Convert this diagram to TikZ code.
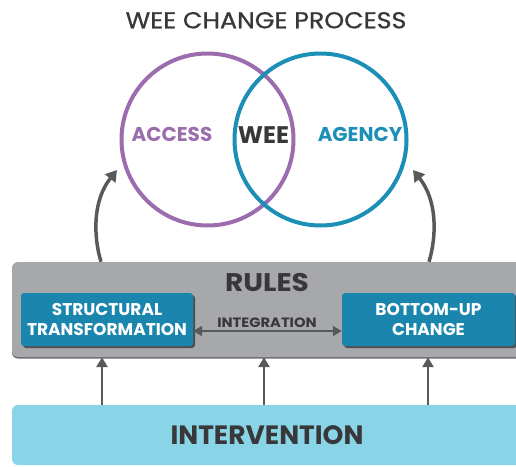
\documentclass[tikz,border=0pt]{standalone}
\usepackage{fontspec}
\setmainfont{Poppins}
\newfontfamily\titlefont{Poppins}[FakeBold=0.8]
\usetikzlibrary{arrows.meta,shadows}
\definecolor{wpurple}{HTML}{9C6DAE}
\definecolor{wblue}{HTML}{1B8FB6}
\definecolor{boxblue}{HTML}{1A86AE}
\definecolor{rulesgray}{HTML}{A7A8AB}
\definecolor{intblue}{HTML}{8AD4E8}
\definecolor{arrowgray}{HTML}{58595B}
\definecolor{wdark}{HTML}{38383A}
\definecolor{shadowgray}{HTML}{505052}
\newcommand\hsc[2]{\scalebox{#1}[1]{#2}}
\begin{document}
\begin{tikzpicture}[x=1pt,y=-1pt,
  circ/.style={circle, minimum size=172pt, line width=4pt, inner sep=0pt},
  lbl/.style={anchor=base, inner sep=0pt, font=\bfseries\fontsize{20}{24}\selectfont},
  bluebox/.style={fill=boxblue, rounded corners=3pt, minimum width=172pt, minimum height=53pt,
     text=white, align=center, inner sep=0pt,
     font=\bfseries\fontsize{17}{20}\selectfont,
     drop shadow={shadow xshift=2pt, shadow yshift=-2pt, fill=shadowgray, opacity=1}},
  rulesbox/.style={fill=rulesgray, rounded corners=6pt, minimum width=510pt, minimum height=95pt, inner sep=0pt,
     drop shadow={shadow xshift=0pt, shadow yshift=-1.5pt, fill=gray!85!black, opacity=1}},
  intbox/.style={fill=intblue, rounded corners=6pt, minimum width=510pt, minimum height=60pt, inner sep=0pt,
     text=wdark, font=\bfseries\fontsize{26.5}{30}\selectfont},
  uparrow/.style={draw=arrowgray, line width=2.6pt, -{Triangle[width=11pt,length=10pt]}},
  curvy/.style={draw=arrowgray, line width=3.5pt, -{Triangle[width=13pt,length=11pt]}},
  intarrow/.style={draw=arrowgray, line width=2pt, {Triangle[width=10pt,length=9pt]}-{Triangle[width=10pt,length=9pt]}}
]
\useasboundingbox (0,0) rectangle (516,466);
\clip (0,0) rectangle (516,466);
% title
\node[anchor=base, inner sep=0pt, text=wdark, font=\titlefont\fontsize{23}{26}\selectfont] (title) at (266,28.3) {\hsc{1.1}{WEE CHANGE PROCESS}};
% circles
\node[circ, draw=wpurple] (access) at (207.5,139.5) {};
\node[circ, draw=wblue] (agency) at (320.5,139.5) {};
\node[lbl, text=wpurple] (accesst) at (172,141.7) {ACCESS};
\node[lbl, text=wdark, font=\bfseries\fontsize{24}{26}\selectfont] (weet) at (263.5,143) {WEE};
\node[lbl, text=wblue] (agencyt) at (360,141.7) {AGENCY};
% rules
\node[rulesbox] (rules) at (267,309.5) {};
\node[anchor=base, inner sep=0pt, text=wdark, font=\bfseries\fontsize{25.5}{28}\selectfont] (rulest) at (267,291.7) {\hsc{1.1}{RULES}};
\node[bluebox] (st) at (107,319.5) {STRUCTURAL\\TRANSFORMATION};
\node[bluebox, minimum width=173pt] (bu) at (428.5,319.5) {BOTTOM-UP\\CHANGE};
\draw[intarrow] ([yshift=-11.5pt]st.east) -- ([yshift=-11.5pt]bu.west);
\node[anchor=base, inner sep=0pt, text=wdark, font=\bfseries\fontsize{13.5}{16}\selectfont] (intl) at (267,327) {\hsc{1.09}{INTEGRATION}};
% intervention
\node[intbox] (interv) at (267,435) {INTERVENTION};
% up arrows
\coordinate (u1) at (102,0);
\coordinate (u2) at (264,0);
\coordinate (u3) at (428,0);
\draw[uparrow] (interv.north -| u1) -- (rules.south -| u1);
\draw[uparrow] (interv.north -| u2) -- (rules.south -| u2);
\draw[uparrow] (interv.north -| u3) -- (rules.south -| u3);
% curved arrows
\coordinate (c1) at (101,0);
\coordinate (c2) at (429,0);
\coordinate (lt) at (117,170);
\coordinate (rt) at (413,170);
\draw[curvy] (rules.north -| c1) .. controls (93,235) and (93,200) .. (lt);
\draw[curvy] (rules.north -| c2) .. controls (437,235) and (437,200) .. (rt);
\end{tikzpicture}
\end{document}
